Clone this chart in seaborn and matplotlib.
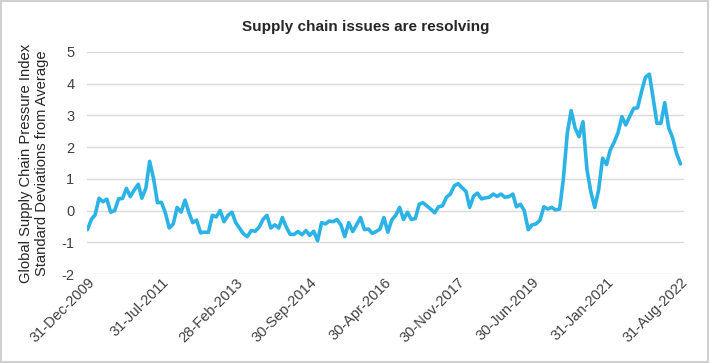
import pandas as pd
import seaborn as sns
import matplotlib.pyplot as plt
from matplotlib.patches import Rectangle

# Monthly GSCPI readings, Dec 2009 .. Aug 2022
gscpi = [
    -0.60, -0.27, -0.14, 0.39, 0.28, 0.36, -0.05, 0.00, 0.37, 0.38,
    0.70, 0.44, 0.65, 0.83, 0.39, 0.70, 1.55, 1.00, 0.25, 0.26,
    -0.08, -0.55, -0.42, 0.10, -0.05, 0.33, -0.05, -0.38, -0.30, -0.70,
    -0.68, -0.69, -0.15, -0.20, 0.00, -0.35, -0.15, -0.05, -0.37, -0.55,
    -0.73, -0.82, -0.63, -0.65, -0.52, -0.28, -0.15, -0.55, -0.45, -0.55,
    -0.22, -0.52, -0.75, -0.75, -0.66, -0.76, -0.63, -0.78, -0.65, -0.95,
    -0.38, -0.42, -0.33, -0.35, -0.28, -0.45, -0.82, -0.38, -0.66, -0.45,
    -0.22, -0.60, -0.58, -0.72, -0.66, -0.58, -0.22, -0.68, -0.30, -0.15,
    0.10, -0.28, -0.05, -0.28, -0.25, 0.20, 0.25, 0.15, 0.05, -0.07,
    0.12, 0.15, 0.42, 0.52, 0.78, 0.85, 0.72, 0.60, 0.10, 0.46,
    0.55, 0.37, 0.40, 0.42, 0.52, 0.45, 0.52, 0.42, 0.44, 0.52,
    0.12, 0.20, 0.00, -0.60, -0.45, -0.42, -0.30, 0.12, 0.05, 0.10,
    0.02, 0.05, 1.00, 2.45, 3.15, 2.60, 2.33, 2.80, 1.30, 0.60,
    0.10, 0.65, 1.65, 1.45, 1.90, 2.15, 2.45, 2.96, 2.70, 2.97,
    3.22, 3.24, 3.75, 4.20, 4.30, 3.50, 2.75, 2.75, 3.40, 2.60,
    2.30, 1.80, 1.47,
]
dates = pd.date_range("2009-12-31", periods=len(gscpi), freq="ME")
tick_dates = dates[::19]
tick_labels = [d.strftime("%d-%b-%Y") for d in tick_dates]
y_ticks = [-2, -1, 0, 1, 2, 3, 4, 5]

df = pd.DataFrame({"Date": dates, "GSCPI": gscpi})

sns.set_theme(style="white")
plt.rcParams["font.family"] = ["Liberation Sans", "DejaVu Sans"]

fig = plt.figure(figsize=(7.1, 3.63), dpi=100)
ax = fig.add_axes([0.1225, 0.245, 0.8405, 0.612])

sns.lineplot(data=df, x="Date", y="GSCPI", color="#2bb3e6", linewidth=2.6, ax=ax)

ax.set_ylim(-2, 5)
ax.set_yticks(y_ticks)
ax.set_yticklabels([str(v) for v in y_ticks], fontsize=10.5, color="#404040")
ax.set_xlim(dates[0] - pd.Timedelta(days=4), dates[-1] + pd.Timedelta(days=25))
ax.set_xticks(tick_dates)
ax.set_xticklabels(tick_labels, rotation=45, ha="right", rotation_mode="anchor",
                   fontsize=10.5, color="#404040")
ax.tick_params(axis="y", length=0, pad=9)
ax.tick_params(axis="x", length=0, pad=1)
ax.yaxis.grid(True, color="#d9d9d9", linewidth=1)
for s in ax.spines.values():
    s.set_visible(False)

ax.set_xlabel("")
ax.set_ylabel("Global Supply Chain Pressure Index\nStandard Deviations from Average",
              fontsize=10.6, color="#262626", linespacing=1.2, labelpad=9)

fig.suptitle("Supply chain issues are resolving", x=0.515, y=0.925, va="center",
             fontsize=11, fontweight="bold",
             family=["Liberation Sans Narrow", "Liberation Sans", "DejaVu Sans"])

fig.patches.append(Rectangle((0.002, 0.003), 0.995, 0.993, transform=fig.transFigure,
                             fill=False, edgecolor="#d0d0d0", linewidth=1.5))

fig.savefig("out.png", dpi=100)
